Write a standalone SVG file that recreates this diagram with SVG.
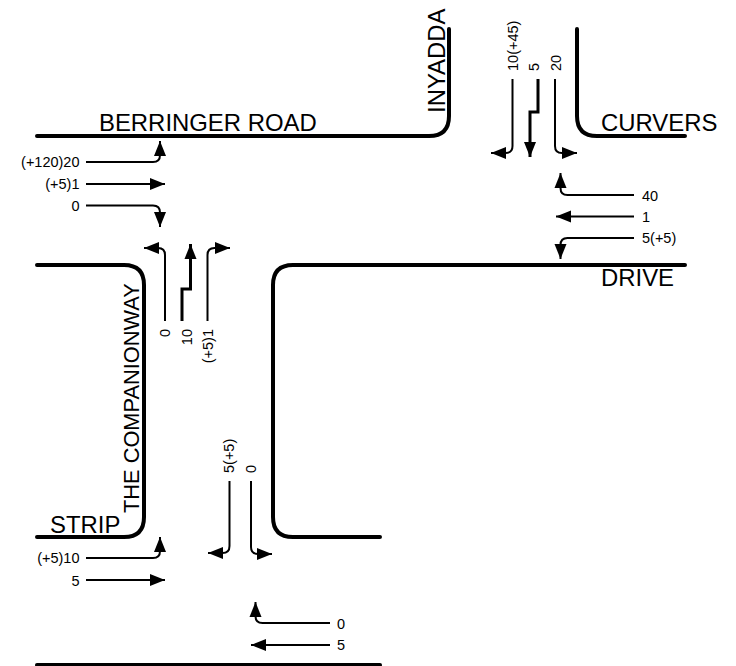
<svg xmlns="http://www.w3.org/2000/svg" width="736" height="666" viewBox="0 0 736 666">
<style>
text{font-family:"Liberation Sans",Arial,sans-serif;fill:#000}
.r{font-size:23.900px}
.c{font-size:21.800px}
.l{font-size:14.500px}
.e{text-anchor:end}
.road{fill:none;stroke:#000;stroke-width:4;stroke-linecap:round}
.a{fill:none;stroke:#000;stroke-width:2}
.b{stroke-width:3}
</style>
<defs><marker id="h" markerUnits="userSpaceOnUse" markerWidth="16" markerHeight="14" refX="15" refY="7" orient="auto" overflow="visible"><path d="M0 1L15 7L0 13Z" fill="#000"/></marker></defs>
<rect width="736" height="666" fill="#fff"/>
<g id="roads">
<path class="road" d="M37 136H429Q449 136 449 116V29"/>
<path class="road" d="M577 29V116Q577 136 597 136H685"/>
<path class="road" d="M685 265H293Q273 265 273 285V517Q273 537 293 537H380"/>
<path class="road" d="M37 265H124Q144 265 144 285V517Q144 537 124 537H37"/>
<path class="road" d="M37 665H380"/>
</g>
<g id="connectors">
<path class="a" marker-end="url(#h)" d="M86 162H153Q160 162 160 155V141"/>
<path class="a" marker-end="url(#h)" d="M86 184H165"/>
<path class="a" marker-end="url(#h)" d="M86 205.500H153Q160 205.500 160 212.500V227"/>
<path class="a" marker-end="url(#h)" d="M165 321V255Q165 248 158 248H144"/>
<path class="a b" marker-end="url(#h)" d="M182 321V289H190.500V244"/>
<path class="a" marker-end="url(#h)" d="M207.500 321V255Q207.500 248 214.500 248H230"/>
<path class="a" marker-end="url(#h)" d="M512.500 79V146Q512.500 153 505.500 153H491"/>
<path class="a b" marker-end="url(#h)" d="M538 79V112H530V157"/>
<path class="a" marker-end="url(#h)" d="M555 79V146Q555 153 562 153H577"/>
<path class="a" marker-end="url(#h)" d="M634 195H567.500Q560.500 195 560.500 188V173"/>
<path class="a" marker-end="url(#h)" d="M634 216.500H556"/>
<path class="a" marker-end="url(#h)" d="M634 238H567.500Q560.500 238 560.500 245V259"/>
<path class="a" marker-end="url(#h)" d="M86 558H153Q160 558 160 551V537"/>
<path class="a" marker-end="url(#h)" d="M86 580H165"/>
<path class="a" marker-end="url(#h)" d="M229.500 481V546Q229.500 553 222.500 553H208"/>
<path class="a" marker-end="url(#h)" d="M251 481V547Q251 554 258 554H272"/>
<path class="a" marker-end="url(#h)" d="M330 623H262.500Q255.500 623 255.500 616V602"/>
<path class="a" marker-end="url(#h)" d="M330 645H251"/>
</g>
<g id="road-labels">
<text class="r" x="99" y="131">BERRINGER ROAD</text>
<text class="r" x="601" y="131">CURVERS</text>
<text class="r" x="601" y="286">DRIVE</text>
<text class="r" x="50" y="533">STRIP</text>
<text class="r" transform="translate(445 113) rotate(-90)">INYADDA</text>
<text class="c" transform="translate(139 513) rotate(-90)">THE COMPANIONWAY</text>
</g>
<g id="flow-labels">
<text class="l e" x="79.500" y="167">(+120)20</text>
<text class="l e" x="79.500" y="189">(+5)1</text>
<text class="l e" x="79.500" y="211">0</text>
<text class="l e" x="79.500" y="563">(+5)10</text>
<text class="l e" x="79.500" y="586">5</text>
<text class="l" x="642" y="201">40</text>
<text class="l" x="642" y="222">1</text>
<text class="l" x="642" y="243">5(+5)</text>
<text class="l" x="337" y="629">0</text>
<text class="l" x="337" y="650">5</text>
<text class="l e" transform="translate(170 329) rotate(-90)">0</text>
<text class="l e" transform="translate(192 329) rotate(-90)">10</text>
<text class="l e" transform="translate(213 329) rotate(-90)">(+5)1</text>
<text class="l" transform="translate(518 71) rotate(-90)">10(+45)</text>
<text class="l" transform="translate(539 71) rotate(-90)">5</text>
<text class="l" transform="translate(561 71) rotate(-90)">20</text>
<text class="l" transform="translate(234 473) rotate(-90)">5(+5)</text>
<text class="l" transform="translate(256 473) rotate(-90)">0</text>
</g>
</svg>
